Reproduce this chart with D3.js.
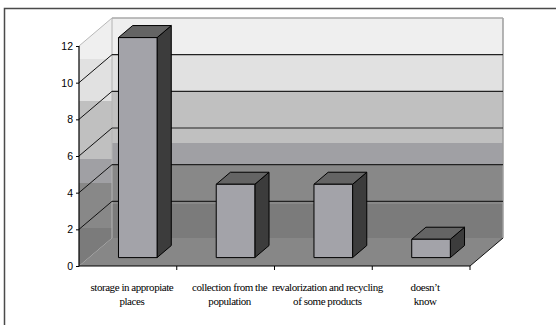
<!DOCTYPE html>
<html>
<head>
<meta charset="utf-8">
<script src="https://cdn.jsdelivr.net/npm/d3@7"></script>
<style>
  html, body { margin: 0; padding: 0; background: #fff; }
  svg { display: block; }
  .cat-label { font-family: "Liberation Serif", "DejaVu Serif", "Times New Roman", serif; font-size: 11px; letter-spacing: -0.45px; }
  .y-label { font-family: "Liberation Sans", Arial, sans-serif; font-size: 10.5px; }
</style>
</head>
<body>
<svg id="chart" width="556" height="325"></svg>
<script>
// Answers and counts
const categories = [
  "storage in appropiate places",
  "collection from the population",
  "revalorization and recycling of some products",
  "doesn’t know"
];
const categoryLines = [
  ["storage in appropiate", "places"],
  ["collection from the", "population"],
  ["revalorization and recycling", "of some products"],
  ["doesn’t", "know"]
];
const values = [12, 4, 4, 1];
const yTicks = [0, 2, 4, 6, 8, 10, 12];

const svg = d3.select("#chart");

// Front plane of the 3D box and its depth offset
const plotLeft = 79, plotRight = 470, plotBottom = 266, plotTop = 46;
const depthX = 33, depthY = -28;
const barDepth0 = 0.30, barDepth1 = 0.73;

const x = d3.scaleBand().domain(categories).range([plotLeft, plotRight]).padding(0);
const y = d3.scaleLinear().domain([0, 12]).range([plotBottom, plotTop]);

// Outer frame
svg.append("rect")
  .attr("x", 4.5).attr("y", 8.5).attr("width", 620).attr("height", 400)
  .attr("fill", "none").attr("stroke", "#4a4a4a").attr("stroke-width", 1.5);

// Stepped gray gradient for the walls
const defs = svg.append("defs");
const grad = defs.append("linearGradient").attr("id", "wallGrad")
  .attr("x1", 0).attr("y1", 0).attr("x2", 0).attr("y2", 1);
const bands = [
  [0.000, 0.165, "#efefef"],
  [0.165, 0.335, "#e1e1e1"],
  [0.335, 0.570, "#c0c0c0"],
  [0.570, 0.665, "#a0a0a4"],
  [0.665, 0.845, "#888888"],
  [0.845, 1.000, "#7b7b7b"]
];
bands.forEach(([a, b, c]) => {
  grad.append("stop").attr("offset", a).attr("stop-color", c);
  grad.append("stop").attr("offset", b).attr("stop-color", c);
});

const yMax = y(12), y0 = y(0);
const backLeft = plotLeft + depthX, backRight = plotRight + depthX;

// Back wall
svg.append("rect")
  .attr("x", backLeft).attr("y", yMax + depthY)
  .attr("width", backRight - backLeft).attr("height", y0 - yMax)
  .attr("fill", "url(#wallGrad)");

// Side wall
svg.append("path")
  .attr("d", d3.line()([[plotLeft, yMax], [backLeft, yMax + depthY], [backLeft, y0 + depthY], [plotLeft, y0]]) + "Z")
  .attr("fill", "url(#wallGrad)");

// Floor
svg.append("path")
  .attr("d", d3.line()([[plotLeft, y0], [backLeft, y0 + depthY], [backRight, y0 + depthY], [plotRight, y0]]) + "Z")
  .attr("fill", "#878787");

// Wall edges
svg.append("line")
  .attr("x1", backLeft).attr("x2", backLeft).attr("y1", yMax + depthY).attr("y2", y0 + depthY)
  .attr("stroke", "#b4b4b4").attr("stroke-width", 1);
svg.append("line")
  .attr("x1", backRight).attr("x2", backRight).attr("y1", yMax + depthY).attr("y2", y0 + depthY)
  .attr("stroke", "#9c9c9c").attr("stroke-width", 1.5);

// Gridlines: diagonal across the side wall, horizontal across the back wall
yTicks.forEach(v => {
  const yy = y(v);
  const edge = (v === 12);
  if (v !== 0) {
    svg.append("line")
      .attr("x1", plotLeft).attr("y1", yy).attr("x2", backLeft).attr("y2", yy + depthY)
      .attr("stroke", edge ? "#b8b8b8" : "#111").attr("stroke-width", 1);
    svg.append("line")
      .attr("x1", backLeft).attr("y1", yy + depthY).attr("x2", backRight).attr("y2", yy + depthY)
      .attr("stroke", edge ? "#a8a8a8" : "#222").attr("stroke-width", edge ? 1.5 : 1.2);
  }
});

// Floor edge on the right
svg.append("line")
  .attr("x1", plotRight).attr("y1", y0).attr("x2", backRight).attr("y2", y0 + depthY)
  .attr("stroke", "#111").attr("stroke-width", 1);

// Bars
const bw = x.bandwidth() * 0.395;
const ox0 = depthX * barDepth0, oy0 = depthY * barDepth0;
const ox1 = depthX * barDepth1, oy1 = depthY * barDepth1;
const bars = svg.append("g").attr("stroke", "#000").attr("stroke-width", 1).attr("stroke-linejoin", "round");
categories.forEach((c, i) => {
  const xl = x(c) + (x.bandwidth() - bw) / 2, xr = xl + bw;
  const yt = y(values[i]), yb = y(0);
  // side face
  bars.append("path")
    .attr("d", d3.line()([[xr + ox0, yt + oy0], [xr + ox1, yt + oy1], [xr + ox1, yb + oy1], [xr + ox0, yb + oy0]]) + "Z")
    .attr("fill", "#3c3c3c");
  // top face
  bars.append("path")
    .attr("d", d3.line()([[xl + ox0, yt + oy0], [xl + ox1, yt + oy1], [xr + ox1, yt + oy1], [xr + ox0, yt + oy0]]) + "Z")
    .attr("fill", "#646464");
  // front face
  bars.append("rect")
    .attr("x", xl + ox0).attr("y", yt + oy0)
    .attr("width", bw).attr("height", yb - yt)
    .attr("fill", "#a3a3a9");
});

// Y axis
const yAxis = svg.append("g")
  .attr("transform", `translate(${plotLeft},0)`)
  .call(d3.axisLeft(y).tickValues(yTicks).tickSize(3).tickPadding(3).tickFormat(d3.format("d")));
yAxis.attr("font-family", null).attr("font-size", null);
yAxis.select(".domain").remove();
yAxis.selectAll(".tick line").attr("stroke", "#000");
yAxis.selectAll("text").attr("class", "y-label").attr("fill", "#000");
svg.append("line")
  .attr("x1", plotLeft).attr("x2", plotLeft).attr("y1", yMax).attr("y2", y0 + 0.5)
  .attr("stroke", "#000").attr("stroke-width", 1.2);

// X axis line and category dividers
svg.append("line")
  .attr("x1", plotLeft).attr("x2", plotRight).attr("y1", y0).attr("y2", y0)
  .attr("stroke", "#000").attr("stroke-width", 1.2);
categories.slice(1).concat([null]).forEach((c) => {
  const xx = c === null ? plotRight : x(c);
  svg.append("line")
    .attr("x1", xx).attr("x2", xx).attr("y1", y0).attr("y2", y0 + 4)
    .attr("stroke", "#000").attr("stroke-width", 1);
});

// Category labels
const labels = svg.append("g")
  .attr("fill", "#000")
  .attr("text-anchor", "middle");
categories.forEach((c, i) => {
  const cx = x(c) + x.bandwidth() / 2 + 4;
  const t = labels.append("text").attr("class", "cat-label").attr("x", cx).attr("y", 291);
  categoryLines[i].forEach((line, j) => {
    t.append("tspan")
      .attr("x", cx)
      .attr("dy", j === 0 ? 0 : 14)
      .text(line);
  });
});
</script>
</body>
</html>
